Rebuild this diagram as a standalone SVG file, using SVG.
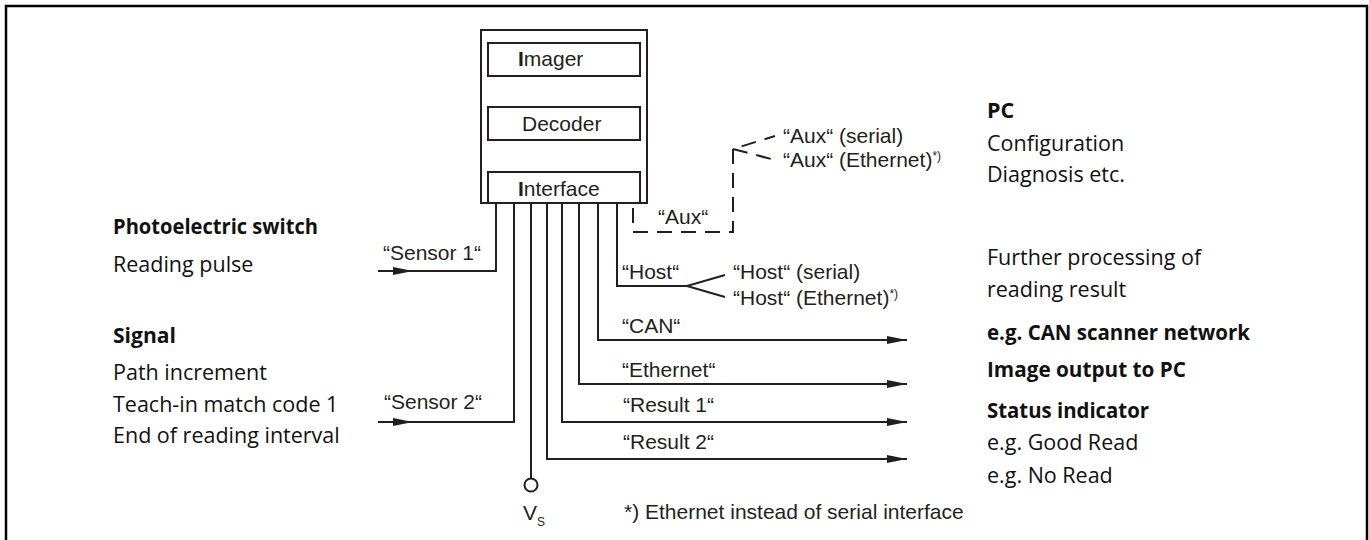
<svg xmlns="http://www.w3.org/2000/svg" width="1369" height="540" viewBox="0 0 1369 540">
  <style>
    .box { fill: none; stroke: #231f20; stroke-width: 2; }
    .wire { fill: none; stroke: #231f20; stroke-width: 2; }
    .dash { fill: none; stroke: #231f20; stroke-width: 2; stroke-dasharray: 15 9; }
    .lbl { font-family: "Liberation Sans", Arial, sans-serif; font-size: 21px; fill: #231f20; }
    .txt { font-family: "Open Sans", "Liberation Sans", sans-serif; font-size: 21.5px; fill: #111; }
    .b { font-weight: 700; }
    .sup { font-size: 12px; }
  </style>
  <defs>
    <marker id="arrow" markerUnits="userSpaceOnUse" markerWidth="22" markerHeight="10" refX="20" refY="4.5" orient="auto">
      <path d="M0,0.5 L20,4.5 L0,8.5 z" fill="#231f20"/>
    </marker>
  </defs>

  <rect width="1369" height="540" fill="#fff"/>
  <!-- outer frame, open at the bottom -->
  <path d="M6,540 V6 H1367 V540" fill="none" stroke="#000" stroke-width="2.5"/>

  <!-- scanner unit -->
  <g id="scanner">
    <rect class="box" x="481" y="30" width="166" height="173"/>
    <g id="imager">
      <rect class="box" x="488" y="43" width="152" height="33"/>
      <text class="lbl" x="518" y="66"><tspan font-weight="700">I</tspan>mager</text>
    </g>
    <g id="decoder">
      <rect class="box" x="488" y="107" width="152" height="33"/>
      <text class="lbl" x="522" y="131">Decoder</text>
    </g>
    <g id="interface">
      <rect class="box" x="488" y="172" width="152" height="31"/>
      <text class="lbl" x="518" y="196"><tspan font-weight="700">I</tspan>nterface</text>
    </g>
  </g>

  <!-- connectors -->
  <g id="connectors">
    <!-- Sensor 1 -->
    <path class="wire" d="M378,271 H413" marker-end="url(#arrow)"/>
    <path class="wire" d="M412,271 H496 V203"/>
    <!-- Sensor 2 -->
    <path class="wire" d="M378,422 H413" marker-end="url(#arrow)"/>
    <path class="wire" d="M412,422 H514 V203"/>
    <!-- supply -->
    <path class="wire" d="M531,203 V478"/>
    <circle cx="531" cy="485" r="6.5" fill="#fff" stroke="#231f20" stroke-width="2"/>
    <!-- outputs -->
    <path class="wire" d="M547,203 V459 H907" marker-end="url(#arrow)"/>
    <path class="wire" d="M562,203 V422 H907" marker-end="url(#arrow)"/>
    <path class="wire" d="M579,203 V384 H907" marker-end="url(#arrow)"/>
    <path class="wire" d="M598,203 V340 H907" marker-end="url(#arrow)"/>
    <!-- Host with fork -->
    <path class="wire" d="M617,203 V286 H687 L725,275 M687,286 L725,297"/>
    <!-- Aux, dashed, with fork -->
    <path class="dash" d="M633,208 V232 H733 V149 L775,136 M733,149 L775,160"/>
  </g>

  <!-- connector labels -->
  <g id="connector-labels">
    <text class="lbl" x="383" y="260">“Sensor 1“</text>
    <text class="lbl" x="384" y="409">“Sensor 2“</text>
    <text class="lbl" x="658" y="224">“Aux“</text>
    <text class="lbl" x="783" y="143">“Aux“ (serial)</text>
    <text class="lbl" x="783" y="167">“Aux“ (Ethernet)<tspan class="sup" dy="-7">*)</tspan></text>
    <text class="lbl" x="622" y="279">“Host“</text>
    <text class="lbl" x="733" y="279">“Host“ (serial)</text>
    <text class="lbl" x="733" y="305">“Host“ (Ethernet)<tspan class="sup" dy="-7">*)</tspan></text>
    <text class="lbl" x="622" y="333">“CAN“</text>
    <text class="lbl" x="622" y="377">“Ethernet“</text>
    <text class="lbl" x="623" y="412">“Result 1“</text>
    <text class="lbl" x="623" y="449">“Result 2“</text>
    <text class="lbl" x="523" y="520">V<tspan font-size="12" dy="6">S</tspan></text>
    <text class="lbl" x="624" y="519" font-size="19">*) Ethernet instead of serial interface</text>
  </g>

  <!-- inputs -->
  <g id="photoelectric-switch">
    <text class="txt b" x="113" y="234" textLength="205" lengthAdjust="spacingAndGlyphs">Photoelectric switch</text>
    <text class="txt" x="113" y="272">Reading pulse</text>
  </g>
  <g id="signal">
    <text class="txt b" x="113" y="343" textLength="63" lengthAdjust="spacingAndGlyphs">Signal</text>
    <text class="txt" x="113" y="380">Path increment</text>
    <text class="txt" x="113" y="412">Teach-in match code 1</text>
    <text class="txt" x="113" y="443">End of reading interval</text>
  </g>

  <!-- outputs -->
  <g id="pc">
    <text class="txt b" x="987" y="118">PC</text>
    <text class="txt" x="987" y="151">Configuration</text>
    <text class="txt" x="987" y="182">Diagnosis etc.</text>
  </g>
  <g id="host-target">
    <text class="txt" x="987" y="265">Further processing of</text>
    <text class="txt" x="987" y="297">reading result</text>
  </g>
  <g id="can-target">
    <text class="txt b" x="987" y="340" textLength="263" lengthAdjust="spacingAndGlyphs">e.g. CAN scanner network</text>
  </g>
  <g id="ethernet-target">
    <text class="txt b" x="987" y="377" textLength="199" lengthAdjust="spacingAndGlyphs">Image output to PC</text>
  </g>
  <g id="status-indicator">
    <text class="txt b" x="987" y="418" textLength="162" lengthAdjust="spacingAndGlyphs">Status indicator</text>
    <text class="txt" x="987" y="450">e.g. Good Read</text>
    <text class="txt" x="987" y="483">e.g. No Read</text>
  </g>
</svg>
